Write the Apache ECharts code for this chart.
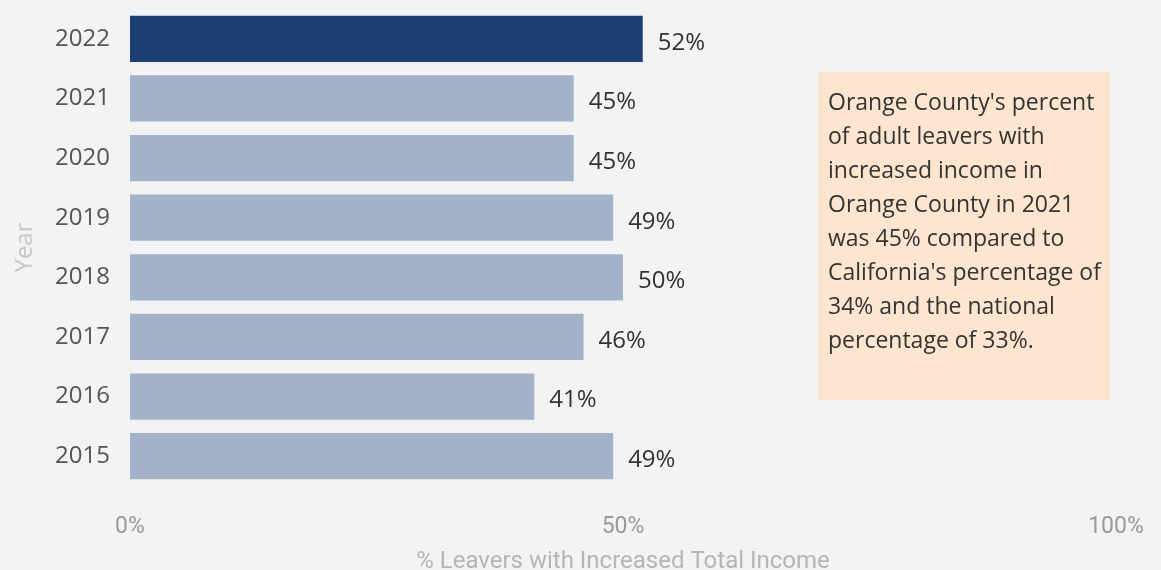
<!DOCTYPE html>
<html>
<head>
<meta charset="utf-8">
<script src="https://cdn.jsdelivr.net/npm/echarts@6/dist/echarts.min.js"></script>
<style>
  html, body { margin: 0; padding: 0; background: #f2f3f5; }
  #chart { width: 1161px; height: 570px; }
</style>
</head>
<body>
<div id="chart"></div>
<script>
// Years, bottom to top on the category axis
const years = ['2015', '2016', '2017', '2018', '2019', '2020', '2021', '2022'];
// Percent of adult leavers with increased total income
const leaverPct = [49, 41, 46, 50, 49, 45, 45, 52];
const highlightYear = '2022';
const xTicks = [0, 50, 100];
const noteLines = [
  "Orange County's percent",
  "of adult leavers with",
  "increased income in",
  "Orange County in 2021",
  "was 45% compared to",
  "California's percentage of",
  "34% and the national",
  "percentage of 33%."
];

const chart = echarts.init(document.getElementById('chart'), null, { renderer: 'canvas' });

chart.setOption({
  backgroundColor: '#f2f3f5',
  animation: false,
  grid: { left: 130, right: 45, top: 9, bottom: 84, containLabel: false, outerBoundsMode: 'none' },
  xAxis: {
    type: 'value',
    min: 0,
    max: 100,
    interval: 50,
    axisLine: { show: false },
    axisTick: { show: false },
    splitLine: { show: false },
    axisLabel: {
      color: '#9a9a9a',
      fontSize: 23,
      fontFamily: 'Roboto',
      margin: 30,
      formatter: v => xTicks.includes(v) ? v + '%' : ''
    },
    name: '% Leavers with Increased Total Income',
    nameLocation: 'middle',
    nameGap: 64,
    nameTextStyle: { color: '#b5b5b5', fontSize: 24, fontFamily: 'Roboto' }
  },
  yAxis: {
    type: 'category',
    data: years,
    axisLine: { show: false },
    axisTick: { show: false },
    axisLabel: {
      color: '#555555', fontSize: 24, fontFamily: 'Open Sans', margin: 20,
      lineHeight: 30, padding: [8, 0, 0, 0]
    },
    name: 'Year',
    nameLocation: 'middle',
    nameGap: 93,
    nameTextStyle: { color: '#c6c6c6', fontSize: 24, fontFamily: 'Open Sans' }
  },
  series: [{
    type: 'bar',
    barCategoryGap: '22.6%',
    data: leaverPct.map((v, i) => ({
      value: v,
      itemStyle: { color: years[i] === highlightYear ? '#1c3f72' : '#a4b2c9' }
    })),
    label: {
      show: true,
      position: 'right',
      distance: 15,
      offset: [0, 4],
      color: '#333333',
      fontSize: 24,
      fontFamily: 'Open Sans',
      formatter: p => p.value + '%'
    }
  }],
  graphic: [{
    type: 'group',
    left: 818,
    top: 72,
    children: [
      {
        type: 'rect',
        shape: { x: 0, y: 0, width: 292, height: 328 },
        style: { fill: '#fde5cf' }
      },
      {
        type: 'text',
        x: 10,
        y: 14,
        style: {
          text: noteLines.join('\n'),
          fill: '#333333',
          fontSize: 23,
          fontFamily: 'Open Sans',
          lineHeight: 34
        }
      }
    ]
  }]
});
</script>
</body>
</html>
